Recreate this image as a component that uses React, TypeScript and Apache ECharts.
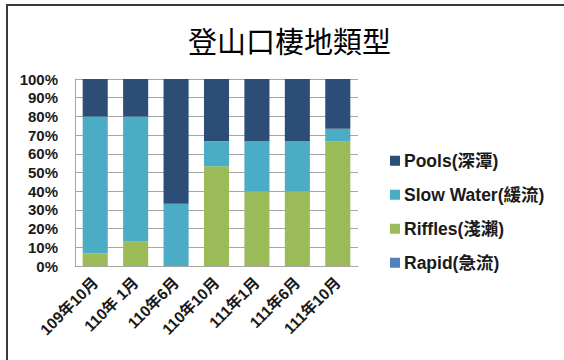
import React, { useEffect, useRef } from "react";
import * as echarts from "echarts";

const categories = ["109年10月", "110年 1月", "110年6月", "110年10月", "111年1月", "111年6月", "111年10月"];
const rapid = [0, 0, 0, 0, 0, 0, 0];
const riffles = [6.67, 13.33, 0, 53.33, 40, 40, 66.67];
const slowWater = [73.33, 66.67, 33.33, 13.33, 26.67, 26.67, 6.67];
const pools = [20, 20, 66.67, 33.33, 33.33, 33.33, 26.67];
const yTicks = [0, 10, 20, 30, 40, 50, 60, 70, 80, 90, 100];

const names = {
  pools: "Pools(深潭)",
  slow: "Slow Water(緩流)",
  riffles: "Riffles(淺瀨)",
  rapid: "Rapid(急流)",
};

export default function App() {
  const ref = useRef<HTMLDivElement>(null);
  useEffect(() => {
    if (!ref.current) return;
    const chart = echarts.init(ref.current, null, { renderer: "svg" });
    const fam = "'Liberation Sans', 'Noto Sans CJK TC', sans-serif";
    const grid = "#A6A6A6";
    const barBase = { type: "bar", stack: "total", barCategoryGap: "38%" };
    chart.setOption({
      animation: false,
      backgroundColor: "#ffffff",
      textStyle: { fontFamily: fam },
      title: {
        text: "登山口棲地類型",
        left: 183,
        top: 20,
        textStyle: { fontFamily: "'Noto Sans CJK TC', serif", fontWeight: "normal", fontSize: 29, color: "#000" },
      },
      legend: {
        orient: "vertical",
        left: 385,
        top: 147,
        itemWidth: 10,
        itemHeight: 10,
        itemGap: 16.5,
        icon: "rect",
        data: [names.pools, names.slow, names.riffles, names.rapid],
        textStyle: { fontFamily: fam, fontWeight: "bold", fontSize: 17.5, color: "#1a1a1a", padding: [0, 0, 0, -1] },
      },
      grid: { left: 75, right: 206, top: 79, bottom: 94 },
      xAxis: {
        type: "category",
        data: categories,
        axisLine: { lineStyle: { color: grid } },
        axisTick: { show: false },
        axisLabel: { rotate: 45, fontWeight: "bold", fontSize: 15.5, color: "#1a1a1a", margin: 14, interval: 0, fontFamily: fam },
      },
      yAxis: {
        type: "value",
        min: yTicks[0],
        max: yTicks[yTicks.length - 1],
        interval: 10,
        axisLine: { show: true, lineStyle: { color: grid } },
        axisTick: { show: false },
        splitLine: { lineStyle: { color: grid, width: 1 } },
        axisLabel: { formatter: "{value}%", fontWeight: "bold", fontSize: 15, color: "#1a1a1a", margin: 17, fontFamily: fam },
      },
      graphic: [
        { type: "line", shape: { x1: 7, y1: 5, x2: 7, y2: 360 }, style: { stroke: "#3a3a3a", lineWidth: 2 } },
        { type: "line", shape: { x1: 6, y1: 5, x2: 564, y2: 5 }, style: { stroke: "#3a3a3a", lineWidth: 2 } },
      ],
      series: [
        { ...barBase, name: names.rapid, data: rapid, itemStyle: { color: "#4F81BD" } },
        { ...barBase, name: names.riffles, data: riffles, itemStyle: { color: "#9BBB59" } },
        { ...barBase, name: names.slow, data: slowWater, itemStyle: { color: "#4BACC6" } },
        { ...barBase, name: names.pools, data: pools, itemStyle: { color: "#2C4D75" } },
      ],
    });
    return () => chart.dispose();
  }, []);
  return <div ref={ref} style={{ position: "fixed", left: 0, top: 0, width: 564, height: 360 }} />;
}
